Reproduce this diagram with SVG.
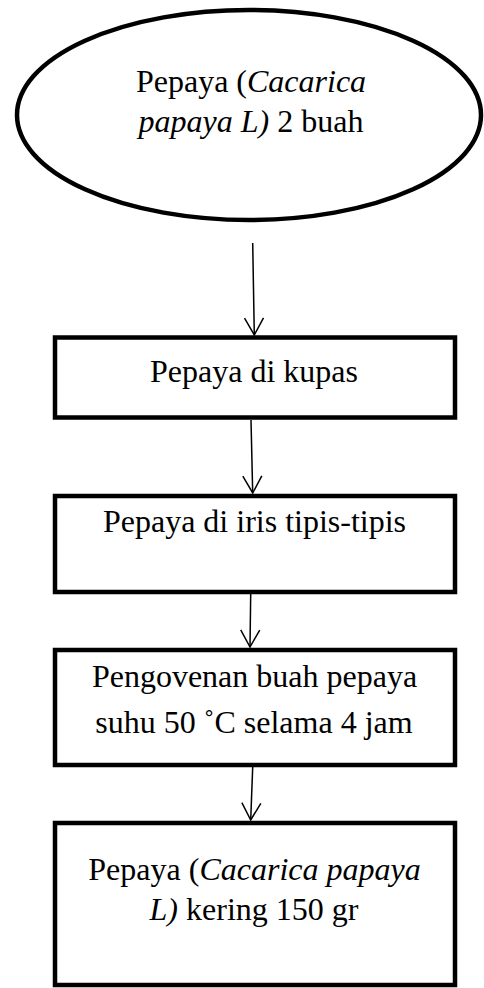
<svg xmlns="http://www.w3.org/2000/svg" width="484" height="988" viewBox="0 0 484 988">
<style>
.shape{fill:#fff;stroke:#000;stroke-width:4.5}
.t{font-family:"Liberation Serif","Times New Roman",serif;font-size:32px;fill:#000;text-anchor:middle}
.i{font-style:italic}
.c{fill:none;stroke:#000;stroke-width:1.5}
</style>
<defs>
<marker id="arr" markerUnits="userSpaceOnUse" markerWidth="40" markerHeight="40" refX="0" refY="0" orient="auto" overflow="visible" viewBox="-20 -20 40 40">
<path d="M-17,-9.5 L0,0 L-17,9.5" fill="none" stroke="#000" stroke-width="1.5"/>
</marker>
</defs>
<rect width="484" height="988" fill="#fff"/>
<g id="n1">
<ellipse class="shape" cx="249" cy="115" rx="232" ry="105" stroke-width="5"/>
<text class="t" x="251" y="92">Pepaya (<tspan class="i">Cacarica</tspan></text>
<text class="t" x="251" y="132"><tspan class="i">papaya L)</tspan> 2 buah</text>
</g>
<g id="n2">
<rect class="shape" x="55" y="337.5" width="400" height="80"/>
<text class="t" x="254" y="382">Pepaya di kupas</text>
</g>
<g id="n3">
<rect class="shape" x="55" y="496" width="400" height="96"/>
<text class="t" x="254.5" y="532">Pepaya di iris tipis-tipis</text>
</g>
<g id="n4">
<rect class="shape" x="55" y="650" width="400" height="115"/>
<text class="t" x="254.5" y="687">Pengovenan buah pepaya</text>
<text class="t" x="254" y="733">suhu 50 ˚C selama 4 jam</text>
</g>
<g id="n5">
<rect class="shape" x="55" y="823" width="400" height="162"/>
<text class="t" x="254.5" y="880">Pepaya (<tspan class="i">Cacarica papaya</tspan></text>
<text class="t" x="254" y="920"><tspan class="i">L)</tspan> kering 150 gr</text>
</g>
<g id="connectors">
<line class="c" x1="252.7" y1="243" x2="254.3" y2="335" marker-end="url(#arr)"/>
<line class="c" x1="251" y1="420" x2="252.7" y2="493" marker-end="url(#arr)"/>
<line class="c" x1="250.7" y1="594" x2="250" y2="647" marker-end="url(#arr)"/>
<line class="c" x1="252.7" y1="767" x2="250.7" y2="820" marker-end="url(#arr)"/>
</g>
</svg>
